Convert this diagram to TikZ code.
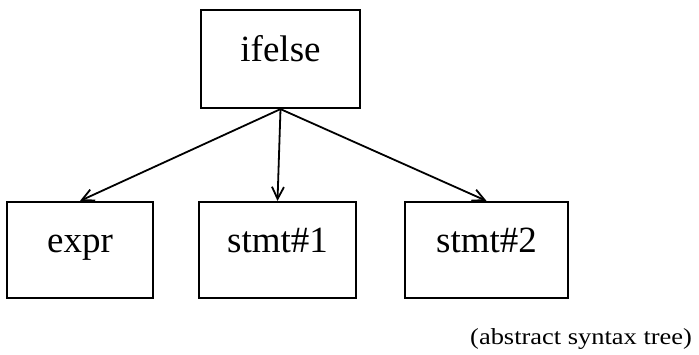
\documentclass[tikz,border=0pt]{standalone}
\usepackage{fontspec}
\usepackage{graphicx}
\setmainfont{Liberation Serif}
\usetikzlibrary{arrows.meta}
\begin{document}
\begin{tikzpicture}[x=1pt,y=-1pt,
  box/.style={draw=black,line width=2.2pt,inner sep=0pt,text height=0.7em,text depth=0.2em,font=\fontsize{37}{40}\selectfont},
  edge/.style={draw=black,line width=1.8pt,-{Straight Barb[length=12pt,width=12pt,line width=1.8pt]}}]
\useasboundingbox (0,0) rectangle (699,354);
\node[box,minimum width=159pt,minimum height=98pt] (ifelse) at (280.5,59) {ifelse};
\node[box,minimum width=146pt,minimum height=96pt] (expr) at (80,250) {expr};
\node[box,minimum width=157pt,minimum height=96pt] (s1) at (277.5,250) {stmt\#1};
\node[box,minimum width=163pt,minimum height=96pt] (s2) at (486.5,250) {stmt\#2};
\draw[edge] (ifelse.south) -- (expr.north);
\draw[edge] (ifelse.south) -- (s1.north);
\draw[edge] (ifelse.south) -- (s2.north);
\node[font=\fontsize{23}{26}\selectfont,inner sep=0pt,anchor=base west] (cap) at (470,344) {\scalebox{1.15}[1]{(abstract syntax tree)}};
\end{tikzpicture}
\end{document}
